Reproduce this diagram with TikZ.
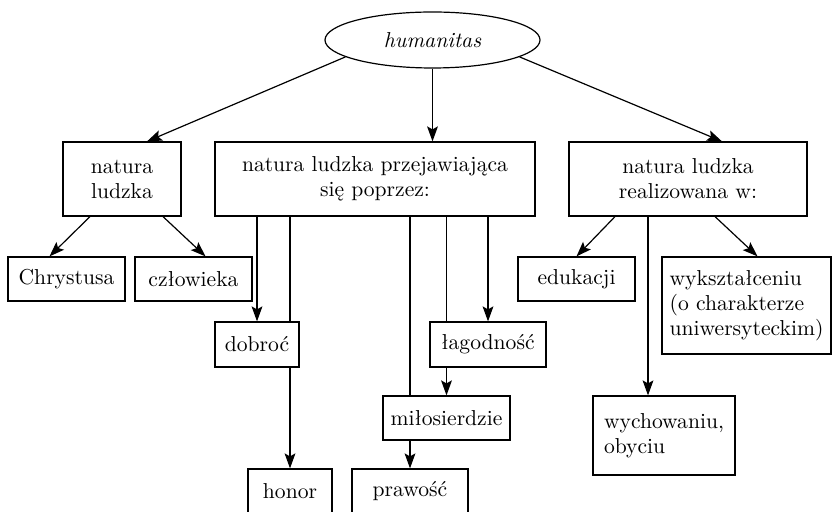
\documentclass[tikz,border=0pt]{standalone}
\usepackage{fontspec}
\usepackage{tikz}
\usetikzlibrary{positioning,shapes.geometric,arrows.meta,calc}

\begin{document}
\begin{tikzpicture}[
  x=0.5pt,y=-0.5pt,
  every node/.style={font=\fontsize{10.8}{12.5}\selectfont},
  box/.style={rectangle,draw,align=center,inner sep=2pt,line width=0.6pt},
  oval/.style={ellipse,draw,inner sep=0pt,line width=0.6pt},
  arr/.style={line width=0.6pt,-{Stealth[length=7.5pt,width=5.4pt,inset=1.5pt]}},
  ln/.style={line width=0.6pt},
]
\useasboundingbox (0,0) rectangle (833,512);
\node (hum) [oval,minimum width=107.5pt,minimum height=28pt] at (432.5,40) {\itshape humanitas};

\node (nat) [box,minimum width=59pt,minimum height=37pt] at (122,179) {natura\\ludzka};
\node (przej) [box,minimum width=160pt,minimum height=37pt] at (375,179) {natura ludzka przejawiająca\\się poprzez:};
\node (real) [box,minimum width=119pt,minimum height=37pt] at (688,179) {natura ludzka\\realizowana w:};

\node (chr) [box,minimum width=58.5pt,minimum height=22pt] at (66.5,279) {Chrystusa};
\node (czl) [box,minimum width=58.5pt,minimum height=22pt] at (193.5,279) {człowieka};
\node (edu) [box,minimum width=58.5pt,minimum height=22pt] at (576.5,279) {edukacji};
\node (wyk) [box,align=left,minimum width=84.5pt,minimum height=48.5pt] at (746.5,305.5) {wykształceniu\\(o charakterze\\uniwersyteckim)};

\node (dob) [box,minimum width=42pt,minimum height=22.5pt] at (257,344.5) {dobroć};
\node (lag) [box,minimum width=58pt,minimum height=22.5pt] at (488,344.5) {łagodność};
\node (mil) [box,minimum width=63.5pt,minimum height=22pt] at (446.5,418) {miłosierdzie};
\node (wyc) [box,align=left,minimum width=71pt,minimum height=39.5pt] at (664,435.5) {wychowaniu,\\obyciu};
\node (hon) [box,minimum width=42pt,minimum height=22pt] at (290,491) {honor};
\node (pra) [box,minimum width=58pt,minimum height=22pt] at (410,491) {prawość};

\draw[arr] (hum.191) -- ($(nat.north)+(25,0)$);
\draw[arr] (hum.south) -- (hum.south |- przej.north);
\draw[arr] (hum.349) -- ($(real.north)+(34,0)$);

\draw[arr] ($(nat.south)+(-32,0)$) -- ($(chr.north)+(-17,0)$);
\draw[arr] ($(nat.south)+(41,0)$) -- ($(czl.north)+(12,0)$);

\draw[arr] (dob.north |- przej.south) -- (dob.north);
\draw[ln] (hon.north |- przej.south) -- (hon.north |- dob.north);
\draw[arr] (hon.north |- dob.south) -- (hon.north);
\draw[ln] (pra.north |- przej.south) -- (pra.north |- mil.north);
\draw[arr] (pra.north |- mil.south) -- (pra.north);
\draw[ln] (mil.north |- przej.south) -- (mil.north |- lag.north);
\draw[arr] (mil.north |- lag.south) -- (mil.north);
\draw[arr] (lag.north |- przej.south) -- (lag.north);

\draw[arr] ($(real.south)+(-73,0)$) -- (edu.north);
\draw[arr] ($(real.south)+(27,0)$) -- ($(wyk.north)+(11,0)$);
\coordinate (wyctop) at ($(wyc.north)+(-16,0)$);
\draw[arr] (wyctop |- real.south) -- (wyctop);
\end{tikzpicture}
\end{document}
